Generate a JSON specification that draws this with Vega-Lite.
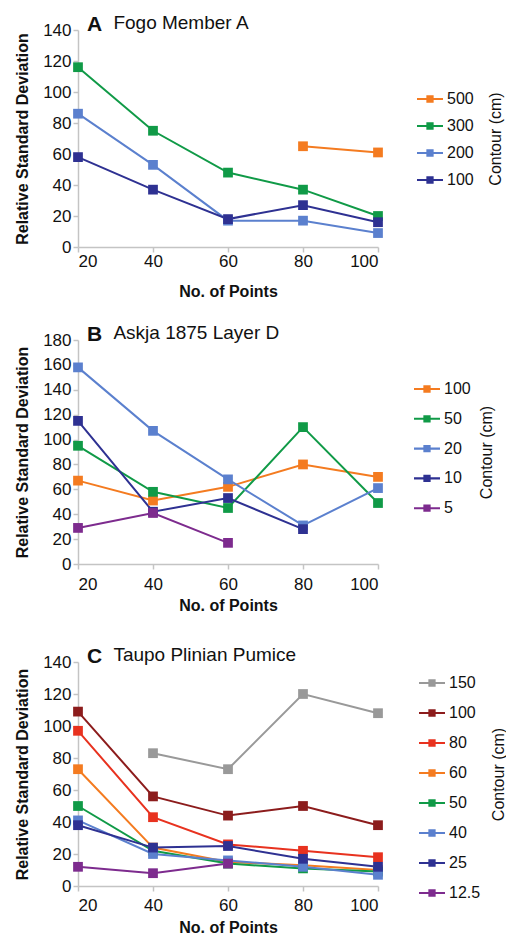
{
  "$schema": "https://vega.github.io/schema/vega-lite/v6.json",
  "padding": {"left": 14, "top": 14, "right": 0, "bottom": 0},
  "background": "white",
  "config": {
    "font": "Liberation Sans",
    "view": {"stroke": null},
    "axis": {"grid": false, "domainColor": "#c4c4c4", "tickColor": "#c4c4c4", "domainWidth": 1.5, "tickWidth": 1.5, "tickSize": 5, "labelFontSize": 17, "labelColor": "#111111", "titleFontSize": 16, "titleFontWeight": "bold", "titleColor": "#111111"},
    "title": {"fontSize": 21, "fontWeight": "bold", "color": "#111111", "anchor": "start", "frame": "group", "subtitleFontSize": 19, "subtitleColor": "#111111", "subtitleFontWeight": "normal"},
    "legend": {"labelFontSize": 16, "labelColor": "#111111", "padding": 0, "labelOffset": 4, "symbolStrokeWidth": 0}
  },
  "resolve": {"scale": {"color": "independent"}, "legend": {"color": "independent"}},
  "spacing": 33,
  "vconcat": [
    {
      "resolve": {"scale": {"color": "independent"}, "legend": {"color": "independent"}},
      "spacing": 25,
      "vconcat": [
        {
          "width": 300, "height": 217,
          "title": {"text": "A", "subtitle": "\u200b\u00a0\u00a0\u00a0\u00a0\u00a0Fogo Member A", "dx": 9, "offset": -14, "subtitlePadding": -21},
          "data": {"values": [
            {"c": "500", "x": 80, "y": 65}, {"c": "500", "x": 100, "y": 61},
            {"c": "300", "x": 20, "y": 116}, {"c": "300", "x": 40, "y": 75}, {"c": "300", "x": 60, "y": 48}, {"c": "300", "x": 80, "y": 37}, {"c": "300", "x": 100, "y": 20},
            {"c": "200", "x": 20, "y": 86}, {"c": "200", "x": 40, "y": 53}, {"c": "200", "x": 60, "y": 17}, {"c": "200", "x": 80, "y": 17}, {"c": "200", "x": 100, "y": 9},
            {"c": "100", "x": 20, "y": 58}, {"c": "100", "x": 40, "y": 37}, {"c": "100", "x": 60, "y": 18}, {"c": "100", "x": 80, "y": 27}, {"c": "100", "x": 100, "y": 16}
          ]},
          "layer": [
            {"mark": {"type": "line", "strokeWidth": 2},
             "encoding": {
               "x": {"field": "x", "type": "quantitative", "scale": {"domain": [20, 100], "nice": false}, "axis": {"values": [20, 40, 60, 80, 100], "title": "No. of Points", "labelPadding": 1, "titlePadding": 14}},
               "y": {"field": "y", "type": "quantitative", "scale": {"domain": [0, 140], "nice": false}, "axis": {"values": [0, 20, 40, 60, 80, 100, 120, 140], "title": "Relative Standard Deviation", "labelPadding": 2, "titlePadding": 12}},
               "color": {"field": "c", "type": "nominal", "sort": null, "scale": {"domain": ["500", "300", "200", "100"], "range": ["#F47B20", "#109A47", "#5B80CE", "#2E3192"]},
                 "legend": {"title": null, "orient": "none", "legendX": 339, "legendY": 56, "symbolType": "M-1,-0.08H1V0.08H-1Z M-0.28,-0.28H0.28V0.28H-0.28Z", "symbolSize": 676, "rowPadding": 6}}
             }},
            {"mark": {"type": "point", "shape": "square", "filled": true, "size": 95, "opacity": 1},
             "encoding": {
               "x": {"field": "x", "type": "quantitative"},
               "y": {"field": "y", "type": "quantitative", "scale": {"domain": [0, 140], "nice": false}, "axis": {"orient": "right", "title": "Contour (cm)", "labels": false, "ticks": false, "domain": false, "titleAngle": 270, "titleFontWeight": "normal", "titlePadding": 125}},
               "color": {"field": "c", "type": "nominal", "sort": null,
                 "legend": {"title": null, "orient": "none", "legendX": 339, "legendY": 56, "symbolType": "M-1,-0.08H1V0.08H-1Z M-0.28,-0.28H0.28V0.28H-0.28Z", "symbolSize": 676, "rowPadding": 6}}
             }}
          ],
          "resolve": {"scale": {"y": "independent"}}
        },
        {
          "width": 300, "height": 224,
          "title": {"text": "B", "subtitle": "\u200b\u00a0\u00a0\u00a0\u00a0\u00a0Askja 1875 Layer D", "dx": 9, "offset": -14, "subtitlePadding": -21},
          "data": {"values": [
            {"c": "100", "x": 20, "y": 67}, {"c": "100", "x": 40, "y": 51}, {"c": "100", "x": 60, "y": 62}, {"c": "100", "x": 80, "y": 80}, {"c": "100", "x": 100, "y": 70},
            {"c": "50", "x": 20, "y": 95}, {"c": "50", "x": 40, "y": 58}, {"c": "50", "x": 60, "y": 45}, {"c": "50", "x": 80, "y": 110}, {"c": "50", "x": 100, "y": 49},
            {"c": "20", "x": 20, "y": 158}, {"c": "20", "x": 40, "y": 107}, {"c": "20", "x": 60, "y": 68}, {"c": "20", "x": 80, "y": 31}, {"c": "20", "x": 100, "y": 61},
            {"c": "10", "x": 20, "y": 115}, {"c": "10", "x": 40, "y": 42}, {"c": "10", "x": 60, "y": 53}, {"c": "10", "x": 80, "y": 28},
            {"c": "5", "x": 20, "y": 29}, {"c": "5", "x": 40, "y": 41}, {"c": "5", "x": 60, "y": 17}
          ]},
          "layer": [
            {"mark": {"type": "line", "strokeWidth": 2},
             "encoding": {
               "x": {"field": "x", "type": "quantitative", "scale": {"domain": [20, 100], "nice": false}, "axis": {"values": [20, 40, 60, 80, 100], "title": "No. of Points", "labelPadding": 7, "titlePadding": 5}},
               "y": {"field": "y", "type": "quantitative", "scale": {"domain": [0, 180], "nice": false}, "axis": {"values": [0, 20, 40, 60, 80, 100, 120, 140, 160, 180], "title": "Relative Standard Deviation", "labelPadding": 2, "titlePadding": 12}},
               "color": {"field": "c", "type": "nominal", "sort": null, "scale": {"domain": ["100", "50", "20", "10", "5"], "range": ["#F47B20", "#109A47", "#5B80CE", "#2E3192", "#7D2B8E"]},
                 "legend": {"title": null, "orient": "none", "legendX": 336, "legendY": 36, "symbolType": "M-1,-0.08H1V0.08H-1Z M-0.28,-0.28H0.28V0.28H-0.28Z", "symbolSize": 676, "rowPadding": 8.8}}
             }},
            {"mark": {"type": "point", "shape": "square", "filled": true, "size": 95, "opacity": 1},
             "encoding": {
               "x": {"field": "x", "type": "quantitative"},
               "y": {"field": "y", "type": "quantitative", "scale": {"domain": [0, 180], "nice": false}, "axis": {"orient": "right", "title": "Contour (cm)", "labels": false, "ticks": false, "domain": false, "titleAngle": 270, "titleFontWeight": "normal", "titlePadding": 116}},
               "color": {"field": "c", "type": "nominal", "sort": null,
                 "legend": {"title": null, "orient": "none", "legendX": 336, "legendY": 36, "symbolType": "M-1,-0.08H1V0.08H-1Z M-0.28,-0.28H0.28V0.28H-0.28Z", "symbolSize": 676, "rowPadding": 8.8}}
             }}
          ],
          "resolve": {"scale": {"y": "independent"}}
        }
      ]
    },
    {
      "width": 300, "height": 224,
      "title": {"text": "C", "subtitle": "\u200b\u00a0\u00a0\u00a0\u00a0\u00a0Taupo Plinian Pumice", "dx": 9, "offset": -14, "subtitlePadding": -21},
      "data": {"values": [
        {"c": "150", "x": 40, "y": 83}, {"c": "150", "x": 60, "y": 73}, {"c": "150", "x": 80, "y": 120}, {"c": "150", "x": 100, "y": 108},
        {"c": "100", "x": 20, "y": 109}, {"c": "100", "x": 40, "y": 56}, {"c": "100", "x": 60, "y": 44}, {"c": "100", "x": 80, "y": 50}, {"c": "100", "x": 100, "y": 38},
        {"c": "80", "x": 20, "y": 97}, {"c": "80", "x": 40, "y": 43}, {"c": "80", "x": 60, "y": 26}, {"c": "80", "x": 80, "y": 22}, {"c": "80", "x": 100, "y": 18},
        {"c": "60", "x": 20, "y": 73}, {"c": "60", "x": 40, "y": 24}, {"c": "60", "x": 60, "y": 15}, {"c": "60", "x": 80, "y": 13}, {"c": "60", "x": 100, "y": 10},
        {"c": "50", "x": 20, "y": 50}, {"c": "50", "x": 40, "y": 22}, {"c": "50", "x": 60, "y": 14}, {"c": "50", "x": 80, "y": 11}, {"c": "50", "x": 100, "y": 9},
        {"c": "40", "x": 20, "y": 41}, {"c": "40", "x": 40, "y": 20}, {"c": "40", "x": 60, "y": 16}, {"c": "40", "x": 80, "y": 12}, {"c": "40", "x": 100, "y": 7},
        {"c": "25", "x": 20, "y": 38}, {"c": "25", "x": 40, "y": 24}, {"c": "25", "x": 60, "y": 25}, {"c": "25", "x": 80, "y": 17}, {"c": "25", "x": 100, "y": 12},
        {"c": "12.5", "x": 20, "y": 12}, {"c": "12.5", "x": 40, "y": 8}, {"c": "12.5", "x": 60, "y": 14}
      ]},
      "layer": [
        {"mark": {"type": "line", "strokeWidth": 2},
         "encoding": {
           "x": {"field": "x", "type": "quantitative", "scale": {"domain": [20, 100], "nice": false}, "axis": {"values": [20, 40, 60, 80, 100], "title": "No. of Points", "labelPadding": 6, "titlePadding": 6}},
           "y": {"field": "y", "type": "quantitative", "scale": {"domain": [0, 140], "nice": false}, "axis": {"values": [0, 20, 40, 60, 80, 100, 120, 140], "title": "Relative Standard Deviation", "labelPadding": 2, "titlePadding": 12}},
           "color": {"field": "c", "type": "nominal", "sort": null, "scale": {"domain": ["150", "100", "80", "60", "50", "40", "25", "12.5"], "range": ["#999999", "#8C1C1C", "#E8321F", "#F47B20", "#109A47", "#5B80CE", "#2E3192", "#7D2B8E"]},
             "legend": {"title": null, "orient": "none", "legendX": 341, "legendY": 8, "symbolType": "M-1,-0.08H1V0.08H-1Z M-0.28,-0.28H0.28V0.28H-0.28Z", "symbolSize": 676, "rowPadding": 9}}
         }},
        {"mark": {"type": "point", "shape": "square", "filled": true, "size": 95, "opacity": 1},
         "encoding": {
           "x": {"field": "x", "type": "quantitative"},
           "y": {"field": "y", "type": "quantitative", "scale": {"domain": [0, 140], "nice": false}, "axis": {"orient": "right", "title": "Contour (cm)", "labels": false, "ticks": false, "domain": false, "titleAngle": 270, "titleFontWeight": "normal", "titlePadding": 128}},
           "color": {"field": "c", "type": "nominal", "sort": null,
             "legend": {"title": null, "orient": "none", "legendX": 341, "legendY": 8, "symbolType": "M-1,-0.08H1V0.08H-1Z M-0.28,-0.28H0.28V0.28H-0.28Z", "symbolSize": 676, "rowPadding": 9}}
         }}
      ],
      "resolve": {"scale": {"y": "independent"}}
    }
  ]
}
